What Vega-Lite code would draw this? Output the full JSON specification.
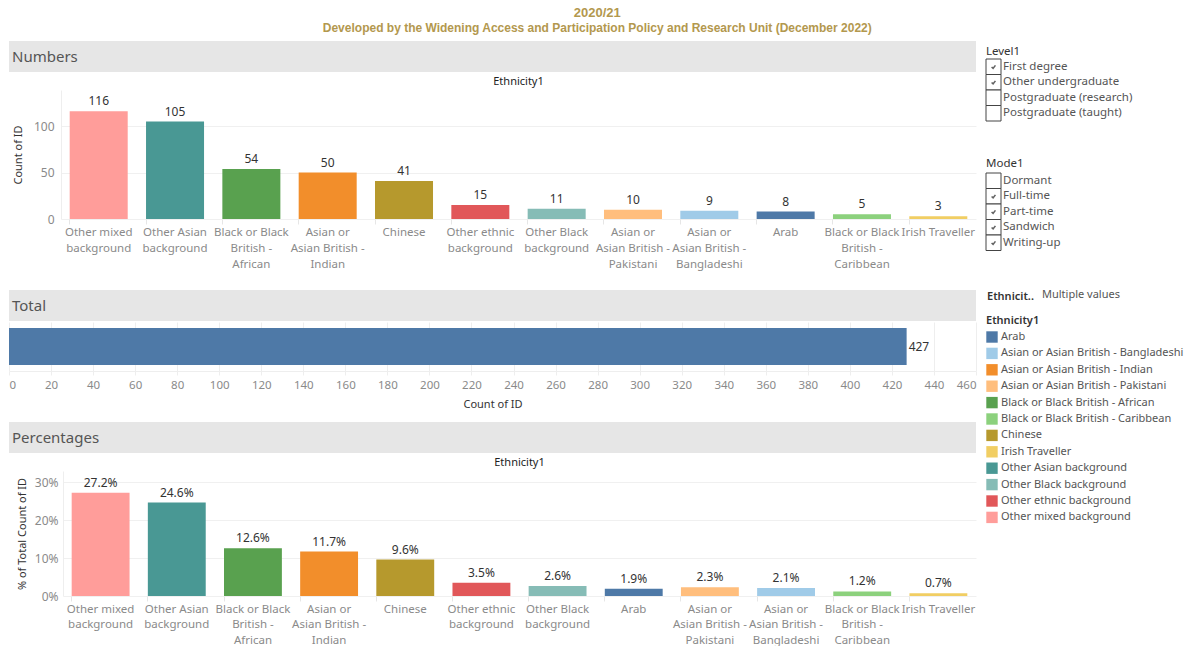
{
  "$schema": "https://vega.github.io/schema/vega-lite/v6.json",
  "padding": {"left": 8, "top": 7, "right": 0, "bottom": 0},
  "background": "white",
  "title": {
    "text": "2020/21",
    "subtitle": "Developed by the Widening Access and Participation Policy and Research Unit (December 2022)",
    "anchor": "middle",
    "font": "Liberation Sans",
    "fontSize": 13,
    "fontWeight": "bold",
    "color": "#b3984e",
    "subtitleFont": "Liberation Sans",
    "subtitleFontSize": 12,
    "subtitleFontWeight": "bold",
    "subtitleColor": "#b3984e",
    "subtitlePadding": 3,
    "offset": 7
  },
  "config": {
    "font": "Noto Sans",
    "view": {"stroke": null},
    "axis": {"labelFont": "Noto Sans", "titleFont": "Noto Sans", "labelColor": "#8a8a8a", "labelFontSize": 11, "titleFontSize": 11, "titleColor": "#333333", "titleFontWeight": "normal"},
    "title": {"font": "Noto Sans"},
    "legend": {"labelFont": "Noto Sans", "titleFont": "Noto Sans"}
  },
  "datasets": {
    "numbers": [
      {"eth": "Other mixed background", "label": "Other mixed|background", "n": 116},
      {"eth": "Other Asian background", "label": "Other Asian|background", "n": 105},
      {"eth": "Black or Black British - African", "label": "Black or Black|British -|African", "n": 54},
      {"eth": "Asian or Asian British - Indian", "label": "Asian or|Asian British -|Indian", "n": 50},
      {"eth": "Chinese", "label": "Chinese", "n": 41},
      {"eth": "Other ethnic background", "label": "Other ethnic|background", "n": 15},
      {"eth": "Other Black background", "label": "Other Black|background", "n": 11},
      {"eth": "Asian or Asian British - Pakistani", "label": "Asian or|Asian British -|Pakistani", "n": 10},
      {"eth": "Asian or Asian British - Bangladeshi", "label": "Asian or|Asian British -|Bangladeshi", "n": 9},
      {"eth": "Arab", "label": "Arab", "n": 8},
      {"eth": "Black or Black British - Caribbean", "label": "Black or Black|British -|Caribbean", "n": 5},
      {"eth": "Irish Traveller", "label": "Irish Traveller", "n": 3}
    ],
    "percent": [
      {"eth": "Other mixed background", "label": "Other mixed|background", "p": 0.272},
      {"eth": "Other Asian background", "label": "Other Asian|background", "p": 0.246},
      {"eth": "Black or Black British - African", "label": "Black or Black|British -|African", "p": 0.126},
      {"eth": "Asian or Asian British - Indian", "label": "Asian or|Asian British -|Indian", "p": 0.117},
      {"eth": "Chinese", "label": "Chinese", "p": 0.096},
      {"eth": "Other ethnic background", "label": "Other ethnic|background", "p": 0.035},
      {"eth": "Other Black background", "label": "Other Black|background", "p": 0.026},
      {"eth": "Arab", "label": "Arab", "p": 0.019},
      {"eth": "Asian or Asian British - Pakistani", "label": "Asian or|Asian British -|Pakistani", "p": 0.023},
      {"eth": "Asian or Asian British - Bangladeshi", "label": "Asian or|Asian British -|Bangladeshi", "p": 0.021},
      {"eth": "Black or Black British - Caribbean", "label": "Black or Black|British -|Caribbean", "p": 0.012},
      {"eth": "Irish Traveller", "label": "Irish Traveller", "p": 0.007}
    ],
    "total": [{"k": "All", "n": 427}],
    "level": [
      {"item": "First degree", "checked": true},
      {"item": "Other undergraduate", "checked": true},
      {"item": "Postgraduate (research)", "checked": false},
      {"item": "Postgraduate (taught)", "checked": false}
    ],
    "mode": [
      {"item": "Dormant", "checked": false},
      {"item": "Full-time", "checked": true},
      {"item": "Part-time", "checked": true},
      {"item": "Sandwich", "checked": true},
      {"item": "Writing-up", "checked": true}
    ],
    "ethfilter": [{"k": "Ethnicit..", "v": "Multiple values"}],
    "hdrN": [{"h": "Numbers"}],
    "hdrT": [{"h": "Total"}],
    "hdrP": [{"h": "Percentages"}],
    "hdrL": [{"h": "Level1"}],
    "hdrM": [{"h": "Mode1"}]
  },
  "hconcat": [
    {
      "concat": [
        {
          "concat": [
            {
              "concat": [
                {
                  "data": {"name": "hdrN"},
                  "width": 967, "height": 31,
                  "view": {"fill": "#e6e6e6", "stroke": null},
                  "mark": {"type": "text", "align": "left", "baseline": "middle", "fontSize": 15, "color": "#555555", "font": "Noto Sans"},
                  "encoding": {"text": {"field": "h"}, "x": {"value": 3}, "y": {"value": 16}}
                },
                {
                  "data": {"name": "numbers"},
                  "width": 967, "height": 129,
                  "title": {"text": "Ethnicity1", "fontSize": 11, "fontWeight": "normal", "color": "#222222", "frame": "group", "anchor": "middle", "offset": 3, "dx": 26},
                  "encoding": {
                    "x": {"field": "label", "type": "nominal", "sort": null,
                      "scale": {"range": [52, 967], "paddingInner": 0.24, "paddingOuter": 0.114},
                      "axis": {"title": null, "labelAngle": 0, "labelExpr": "split(datum.value, '|')", "labelLineHeight": 16, "labelPadding": 2, "labelBaseline": "top", "domain": false, "tickColor": "#e6e6e6", "tickSize": 5, "bandPosition": 0, "labelFontSize": 11.5}},
                    "y": {"field": "n", "type": "quantitative",
                      "scale": {"domain": [0, 139], "nice": false},
                      "axis": {"title": "Count of ID", "offset": -52, "values": [0, 50, 100], "grid": true, "gridColor": "#f0f0f0", "domain": true, "domainColor": "#eeeeee", "ticks": false, "labelPadding": 7, "titlePadding": 10, "labelFontSize": 12}}
                  },
                  "layer": [
                    {"mark": {"type": "bar"}, "encoding": {"color": {"field": "eth", "type": "nominal", "legend": {"orient": "none", "legendX": 977, "legendY": 274, "title": "Ethnicity1", "titleFontSize": 11, "titleFontWeight": 600, "titleColor": "#333333", "labelFontSize": 11, "labelColor": "#555555", "symbolType": "square", "symbolSize": 130, "symbolStrokeWidth": 0, "rowPadding": 4.4, "labelOffset": 3, "titlePadding": 5, "labelLimit": 250},
                      "scale": {"domain": ["Arab", "Asian or Asian British - Bangladeshi", "Asian or Asian British - Indian", "Asian or Asian British - Pakistani", "Black or Black British - African", "Black or Black British - Caribbean", "Chinese", "Irish Traveller", "Other Asian background", "Other Black background", "Other ethnic background", "Other mixed background"],
                        "range": ["#4e79a7", "#a0cbe8", "#f28e2b", "#ffbe7d", "#59a14f", "#8cd17d", "#b6992d", "#f1ce63", "#499894", "#86bcb6", "#e15759", "#ff9d9a"]}}}},
                    {"mark": {"type": "text", "baseline": "bottom", "dy": -3, "fontSize": 12, "color": "#333333"}, "encoding": {"text": {"field": "n", "type": "quantitative"}}}
                  ]
                }
              ],
              "columns": 1, "spacing": 4
            },
            {
              "concat": [
                {
                  "data": {"name": "hdrT"},
                  "width": 967, "height": 31,
                  "view": {"fill": "#e6e6e6", "stroke": null},
                  "mark": {"type": "text", "align": "left", "baseline": "middle", "fontSize": 15, "color": "#555555", "font": "Noto Sans"},
                  "encoding": {"text": {"field": "h"}, "x": {"value": 3}, "y": {"value": 16}}
                },
                {
                  "data": {"name": "total"},
                  "width": 967, "height": 49,
                  "encoding": {
                    "y": {"field": "k", "type": "nominal", "axis": null, "scale": {"paddingInner": 0, "paddingOuter": 0.16}},
                    "x": {"field": "n", "type": "quantitative",
                      "scale": {"domain": [0, 460], "nice": false},
                      "axis": {"title": "Count of ID", "values": [0, 20, 40, 60, 80, 100, 120, 140, 160, 180, 200, 220, 240, 260, 280, 300, 320, 340, 360, 380, 400, 420, 440, 460], "grid": true, "gridColor": "#eeeeee", "domainColor": "#eeeeee", "tickColor": "#eeeeee", "tickSize": 4, "labelPadding": 4, "titlePadding": 8, "labelFontSize": 11.5, "labelFlush": true}}
                  },
                  "layer": [
                    {"mark": {"type": "bar", "color": "#4e79a7"}},
                    {"mark": {"type": "text", "align": "left", "dx": 2, "fontSize": 12, "color": "#333333"}, "encoding": {"text": {"field": "n", "type": "quantitative"}}}
                  ]
                }
              ],
              "columns": 1, "spacing": 1
            }
          ],
          "columns": 1, "spacing": 20
        },
        {
          "concat": [
            {
              "data": {"name": "hdrP"},
              "width": 967, "height": 31,
              "view": {"fill": "#e6e6e6", "stroke": null},
              "mark": {"type": "text", "align": "left", "baseline": "middle", "fontSize": 15, "color": "#555555", "font": "Noto Sans"},
              "encoding": {"text": {"field": "h"}, "x": {"value": 3}, "y": {"value": 16}}
            },
            {
              "data": {"name": "percent"},
              "width": 967, "height": 125,
              "title": {"text": "Ethnicity1", "fontSize": 11, "fontWeight": "normal", "color": "#222222", "frame": "group", "anchor": "middle", "offset": 3, "dx": 27},
              "encoding": {
                "x": {"field": "label", "type": "nominal", "sort": null,
                  "scale": {"range": [54, 967], "paddingInner": 0.24, "paddingOuter": 0.114},
                  "axis": {"title": null, "labelAngle": 0, "labelExpr": "split(datum.value, '|')", "labelLineHeight": 15.5, "labelPadding": 2, "labelBaseline": "top", "domain": false, "tickColor": "#e6e6e6", "tickSize": 5, "bandPosition": 0, "labelFontSize": 11.5}},
                "y": {"field": "p", "type": "quantitative",
                  "scale": {"domain": [0, 0.329], "nice": false},
                  "axis": {"title": "% of Total Count of ID", "offset": -54, "values": [0, 0.1, 0.2, 0.3], "format": ".0%", "grid": true, "gridColor": "#f0f0f0", "domain": true, "domainColor": "#eeeeee", "ticks": false, "labelPadding": 5, "titlePadding": 7, "labelFontSize": 12}}
              },
              "layer": [
                {"mark": {"type": "bar"}, "encoding": {"color": {"field": "eth", "type": "nominal"}}},
                {"mark": {"type": "text", "baseline": "bottom", "dy": -3, "fontSize": 12, "color": "#333333"}, "encoding": {"text": {"field": "p", "type": "quantitative", "format": ".1%"}}}
              ]
            }
          ],
          "columns": 1, "spacing": 4
        }
      ],
      "columns": 1, "spacing": 12
    },
    {
      "concat": [
        {
          "data": {"name": "hdrL"},
          "width": 200, "height": 17,
          "mark": {"type": "text", "align": "left", "baseline": "middle", "fontSize": 11.5, "color": "#333333"},
          "encoding": {"text": {"field": "h"}, "x": {"value": 0}, "y": {"value": 10.5}}
        },
        {
          "data": {"name": "level"},
          "width": 200, "height": 62,
          "encoding": {"y": {"field": "item", "type": "nominal", "sort": null, "axis": null, "scale": {"paddingInner": 0, "paddingOuter": 0}}},
          "layer": [
            {"mark": {"type": "rect", "fill": "white", "stroke": "#444444", "strokeWidth": 1}, "encoding": {"x": {"value": 0}, "x2": {"value": 15}}},
            {"transform": [{"filter": "datum.checked"}], "mark": {"type": "point", "shape": "M-0.7,0.1L-0.15,0.6L0.7,-0.5", "filled": false, "stroke": "#222222", "strokeWidth": 1.6, "size": 30}, "encoding": {"x": {"value": 7.5}}},
            {"mark": {"type": "text", "align": "left", "baseline": "middle", "fontSize": 11.5, "color": "#555555"}, "encoding": {"x": {"value": 17}, "text": {"field": "item"}}}
          ]
        },
        {
          "data": {"name": "hdrM"},
          "width": 200, "height": 49.5,
          "mark": {"type": "text", "align": "left", "baseline": "middle", "fontSize": 11.5, "color": "#333333"},
          "encoding": {"text": {"field": "h"}, "x": {"value": 0}, "y": {"value": 42}}
        },
        {
          "data": {"name": "mode"},
          "width": 200, "height": 77.5,
          "encoding": {"y": {"field": "item", "type": "nominal", "sort": null, "axis": null, "scale": {"paddingInner": 0, "paddingOuter": 0}}},
          "layer": [
            {"mark": {"type": "rect", "fill": "white", "stroke": "#444444", "strokeWidth": 1}, "encoding": {"x": {"value": 0}, "x2": {"value": 15}}},
            {"transform": [{"filter": "datum.checked"}], "mark": {"type": "point", "shape": "M-0.7,0.1L-0.15,0.6L0.7,-0.5", "filled": false, "stroke": "#222222", "strokeWidth": 1.6, "size": 30}, "encoding": {"x": {"value": 7.5}}},
            {"mark": {"type": "text", "align": "left", "baseline": "middle", "fontSize": 11.5, "color": "#555555"}, "encoding": {"x": {"value": 17}, "text": {"field": "item"}}}
          ]
        },
        {
          "data": {"name": "ethfilter"},
          "width": 200, "height": 55,
          "layer": [
            {"mark": {"type": "text", "align": "left", "baseline": "middle", "fontSize": 11, "fontWeight": 600, "color": "#333333"}, "encoding": {"x": {"value": 1}, "y": {"value": 46}, "text": {"field": "k"}}},
            {"mark": {"type": "text", "align": "left", "baseline": "middle", "fontSize": 11, "color": "#555555"}, "encoding": {"x": {"value": 56}, "y": {"value": 44}, "text": {"field": "v"}}}
          ]
        }
      ],
      "columns": 1, "spacing": 0
    }
  ],
  "spacing": 8
}
